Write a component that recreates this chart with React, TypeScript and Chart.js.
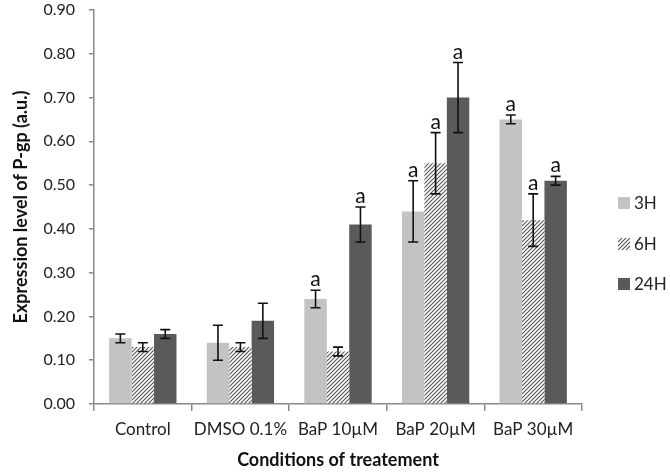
import React, { useEffect, useRef } from "react";
import { Chart, registerables } from "chart.js";

Chart.register(...registerables);

const categories = ["Control", "DMSO 0.1%", "BaP 10µM", "BaP 20µM", "BaP 30µM"];
const seriesNames = ["3H", "6H", "24H"];
const values3H = [0.15, 0.14, 0.24, 0.44, 0.65];
const values6H = [0.13, 0.13, 0.12, 0.55, 0.42];
const values24H = [0.16, 0.19, 0.41, 0.70, 0.51];
const errors3H = [0.01, 0.04, 0.02, 0.07, 0.01];
const errors6H = [0.01, 0.01, 0.01, 0.07, 0.06];
const errors24H = [0.01, 0.04, 0.04, 0.08, 0.01];
const sig3H = [false, false, true, true, true];
const sig6H = [false, false, false, true, true];
const sig24H = [false, false, true, true, true];
const yTicks = [0, 0.1, 0.2, 0.3, 0.4, 0.5, 0.6, 0.7, 0.8, 0.9];

const FONT = "Lato, 'Open Sans', sans-serif";

function makeHatch(): CanvasPattern | string {
  const c = document.createElement("canvas");
  c.width = 4;
  c.height = 4;
  const g = c.getContext("2d");
  if (!g) return "#888";
  g.fillStyle = "#ffffff";
  g.fillRect(0, 0, 4, 4);
  g.strokeStyle = "#555555";
  g.lineWidth = 1.1;
  g.beginPath();
  g.moveTo(-1, 5);
  g.lineTo(5, -1);
  g.moveTo(-1, 1);
  g.lineTo(1, -1);
  g.moveTo(3, 5);
  g.lineTo(5, 3);
  g.stroke();
  const p = g.createPattern(c, "repeat");
  return p || "#888";
}

export default function App() {
  const ref = useRef<HTMLCanvasElement | null>(null);
  useEffect(() => {
    document.body.style.margin = "0";
    const canvas = ref.current;
    if (!canvas) return;
    const hatch = makeHatch();
    const colors: any[] = ["#c3c3c3", hatch, "#5a5a5a"];
    const errs = [errors3H, errors6H, errors24H];
    const sigs = [sig3H, sig6H, sig24H];

    const errorPlugin = {
      id: "errorBars",
      afterDatasetsDraw(chart: any) {
        const ctx = chart.ctx;
        const y = chart.scales.y;
        ctx.save();
        chart.data.datasets.forEach((ds: any, d: number) => {
          const meta = chart.getDatasetMeta(d);
          meta.data.forEach((bar: any, i: number) => {
            const v = ds.data[i];
            const e = errs[d][i];
            const x = bar.x;
            const yt = y.getPixelForValue(v + e);
            const yb = y.getPixelForValue(v - e);
            ctx.strokeStyle = "#111";
            ctx.lineWidth = 1.6;
            ctx.beginPath();
            ctx.moveTo(x, yt);
            ctx.lineTo(x, yb);
            ctx.moveTo(x - 5, yt);
            ctx.lineTo(x + 5, yt);
            ctx.moveTo(x - 5, yb);
            ctx.lineTo(x + 5, yb);
            ctx.stroke();
            if (sigs[d][i]) {
              ctx.fillStyle = "#111";
              ctx.font = `21px ${FONT}`;
              ctx.textAlign = "center";
              ctx.textBaseline = "alphabetic";
              ctx.fillText("a", x, yt - 4);
            }
          });
        });
        ctx.restore();
      },
      afterDraw(chart: any) {
        const ctx = chart.ctx;
        ctx.save();
        const rowsY = [203, 244, 284];
        const bx = 618;
        seriesNames.forEach((name, i) => {
          const cy = rowsY[i];
          ctx.fillStyle = colors[i];
          ctx.fillRect(bx, cy - 6, 12, 12);
          ctx.fillStyle = "#222";
          ctx.font = `17px ${FONT}`;
          ctx.textAlign = "left";
          ctx.textBaseline = "middle";
          ctx.fillText(name, bx + 16, cy + 1);
        });
        ctx.restore();
      },
    };

    const chart = new Chart(canvas, {
      type: "bar",
      data: {
        labels: categories,
        datasets: [
          { label: seriesNames[0], data: values3H, backgroundColor: colors[0] },
          { label: seriesNames[1], data: values6H, backgroundColor: colors[1] },
          { label: seriesNames[2], data: values24H, backgroundColor: colors[2] },
        ],
      },
      options: {
        animation: false,
        responsive: false,
        maintainAspectRatio: false,
        layout: { padding: { left: 0, right: 88, top: 10, bottom: 0 } },
        plugins: { legend: { display: false }, tooltip: { enabled: false } },
        datasets: { bar: { categoryPercentage: 0.69, barPercentage: 1 } },
        scales: {
          x: {
            grid: {
              offset: true,
              drawOnChartArea: false,
              tickLength: 7,
              color: "#8a8a8a",
              lineWidth: 1.5,
            },
            border: { color: "#8a8a8a", width: 1.5 },
            ticks: {
              color: "#222",
              font: { family: FONT, size: 17 },
              padding: 8,
              maxRotation: 0,
              minRotation: 0,
              autoSkip: false,
            },
            title: {
              display: true,
              text: "Conditions of treatement",
              color: "#111",
              font: { family: FONT, size: 18, weight: "bold" },
              padding: { top: 4, bottom: 2 },
            },
            afterFit(scale: any) {
              scale.height = 69;
            },
          },
          y: {
            min: 0,
            max: 0.9,
            grid: {
              drawOnChartArea: false,
              tickLength: 5,
              color: "#8a8a8a",
              lineWidth: 1.5,
            },
            border: { color: "#8a8a8a", width: 1.5 },
            afterBuildTicks(scale: any) {
              scale.ticks = yTicks.map((v) => ({ value: v }));
            },
            ticks: {
              color: "#222",
              font: { family: FONT, size: 16 },
              padding: 14,
              callback: (v: any) => Number(v).toFixed(2),
            },
            title: {
              display: true,
              text: "Expression level of P-gp (a.u.)",
              color: "#111",
              font: { family: FONT, size: 18, weight: "bold" },
              padding: { top: 10, bottom: 4 },
            },
            afterFit(scale: any) {
              scale.width = 94;
              scale.paddingTop = 0;
              scale.paddingBottom = 0;
            },
          },
        },
      },
      plugins: [errorPlugin],
    } as any);
    return () => chart.destroy();
  }, []);
  return (
    <div style={{ width: 670, height: 473, background: "#fff" }}>
      <canvas ref={ref} width={670} height={473} />
    </div>
  );
}
